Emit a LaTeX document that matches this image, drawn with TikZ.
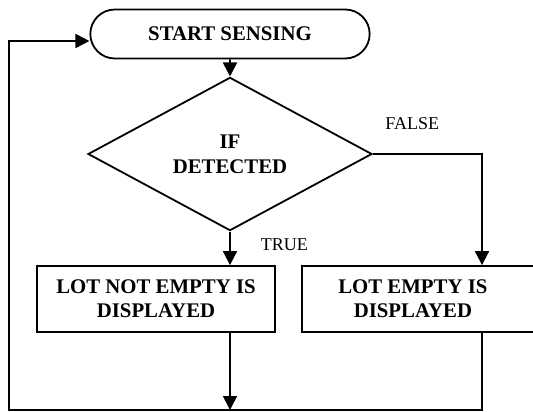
\documentclass[tikz,border=0pt]{standalone}
\usepackage{fontspec}
\setmainfont{Liberation Serif}
\usetikzlibrary{arrows.meta,positioning,shapes.geometric,shapes.misc}

\begin{document}
\begin{tikzpicture}[
  x=1pt,y=-1pt,line width=1.8pt,
  term/.style={draw,rounded rectangle,minimum width=286pt,minimum height=49pt,font=\fontsize{20.8}{24.5}\selectfont\bfseries},
  test/.style={draw,diamond,minimum width=284pt,minimum height=128pt,inner sep=0pt,align=center,font=\fontsize{20.8}{25}\selectfont\bfseries},
  proc/.style={draw,rectangle,minimum height=66pt,align=center,font=\fontsize{20.8}{24}\selectfont\bfseries},
  lbl/.style={inner sep=0pt,font=\fontsize{18}{21}\selectfont},
  arr/.style={-{Triangle[length=14pt,width=14pt]}}
]
\useasboundingbox (0,0) rectangle (533,412);

\node[term] (start) at (230,34) {START SENSING};
\node[test] (decide) at (230,154) {IF\\DETECTED};
\node[proc,minimum width=238pt] (notempty) at (156,299) {LOT NOT EMPTY IS\\DISPLAYED};
% box runs off the right edge, text kept left of centre
\node[proc,anchor=west,minimum width=250pt] (empty) at (301,299)
  {LOT EMPTY IS\kern28pt\\DISPLAYED\kern28pt};

\coordinate (loopL) at (9,410);
\coordinate (loopR) at (482,410);

\draw[arr] (start) -- (decide);
\draw[arr] (decide.south) -- node[lbl,pos=0.4,right=30pt] (truelbl) {TRUE} (decide.south |- notempty.north);
\draw[arr] (decide.east) -| node[lbl,pos=0.18,above=23pt] (falselbl) {FALSE} (loopR |- empty.north);

% back to the start
\draw[arr] (decide.south |- notempty.south) -- (decide.south |- loopL);
\draw[arr] (loopR |- empty.south) -- (loopR) -- (loopL) |- ([yshift=-7pt]start.west);

\end{tikzpicture}
\end{document}
